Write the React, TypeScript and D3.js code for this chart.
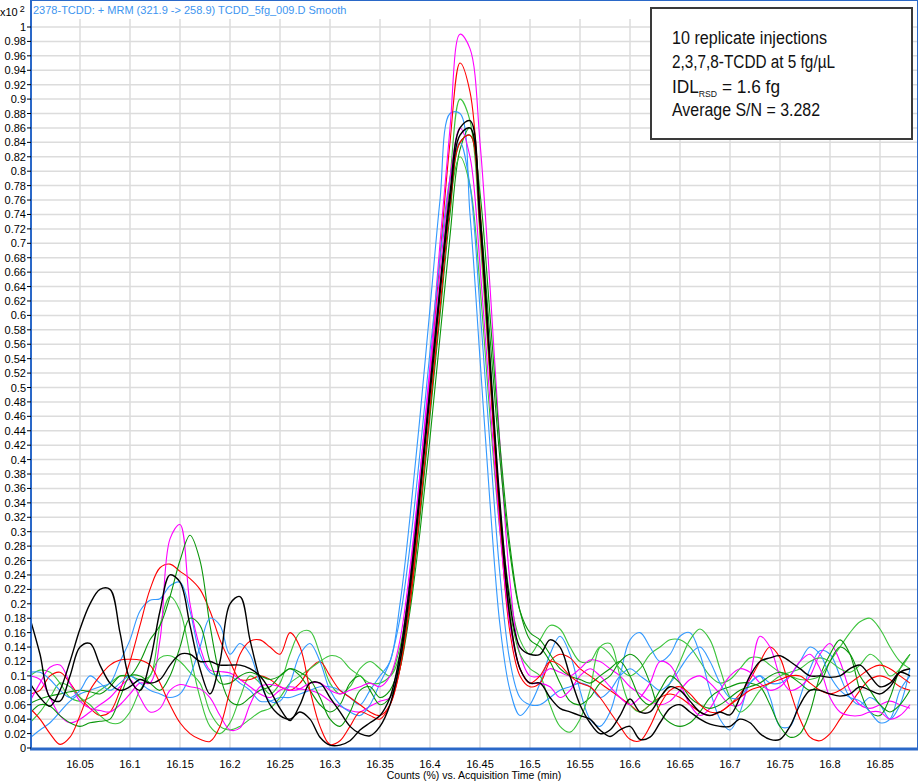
import React from "react";
import * as d3 from "d3";

// acquisition times, one sample every 0.01 min from 16.00 to 16.88
const times: number[] = d3.range(89).map((i) => +(16 + i * 0.01).toFixed(2));

const title = "2378-TCDD: + MRM (321.9 -> 258.9) TCDD_5fg_009.D  Smooth";
const xLabel = "Counts (%) vs. Acquisition Time (min)";
const xTicks = [16.05, 16.1, 16.15, 16.2, 16.25, 16.3, 16.35, 16.4, 16.45, 16.5, 16.55, 16.6, 16.65, 16.7, 16.75, 16.8, 16.85];

// replicate traces (x10^2 counts)
const magenta1 = [0.065,0.09,0.112,0.115,0.09,0.065,0.055,0.052,0.05,0.06,0.075,0.09,0.09,0.15,0.29,0.31,0.2,0.14,0.108,0.106,0.104,0.095,0.085,0.075,0.07,0.08,0.085,0.082,0.08,0.075,0.065,0.058,0.052,0.05,0.058,0.065,
  0.07,0.13,0.24,0.38,0.53,0.7,0.86,0.99,0.97,0.84,0.64,0.42,0.23,0.13,0.1,
  0.1,0.11,0.105,0.1,0.11,0.122,0.12,0.11,0.1,0.085,0.075,0.065,0.06,0.065,0.08,0.095,0.1,0.09,0.075,0.06,0.06,0.1,0.155,0.14,0.1,0.08,0.085,0.1,0.13,0.145,0.12,0.08,0.06,0.055,0.06,0.065,0.06,0.055];
const magenta2 = [0.1,0.095,0.07,0.045,0.035,0.04,0.05,0.06,0.07,0.085,0.095,0.07,0.05,0.055,0.08,0.088,0.085,0.082,0.07,0.045,0.025,0.028,0.06,0.085,0.088,0.085,0.08,0.082,0.09,0.09,0.08,0.075,0.08,0.085,0.09,0.085,
  0.1,0.15,0.25,0.38,0.52,0.66,0.79,0.86,0.82,0.67,0.48,0.3,0.17,0.11,0.09,
  0.09,0.085,0.07,0.08,0.1,0.11,0.1,0.085,0.07,0.06,0.07,0.09,0.12,0.115,0.09,0.06,0.045,0.055,0.08,0.1,0.11,0.105,0.09,0.08,0.085,0.1,0.12,0.13,0.11,0.07,0.05,0.045,0.045,0.05,0.05,0.04,0.045,0.06];
const red1 = [0.075,0.08,0.1,0.105,0.09,0.07,0.055,0.045,0.05,0.08,0.12,0.17,0.22,0.25,0.255,0.245,0.235,0.22,0.19,0.15,0.12,0.095,0.095,0.1,0.095,0.085,0.08,0.09,0.11,0.12,0.1,0.08,0.07,0.06,0.05,0.045,
  0.06,0.11,0.21,0.35,0.51,0.68,0.84,0.95,0.91,0.75,0.52,0.31,0.16,0.1,0.085,
  0.09,0.12,0.13,0.125,0.11,0.1,0.09,0.08,0.07,0.06,0.05,0.06,0.07,0.075,0.07,0.06,0.05,0.045,0.05,0.06,0.075,0.095,0.12,0.14,0.125,0.08,0.04,0.015,0.01,0.02,0.04,0.06,0.08,0.095,0.1,0.095,0.085,0.08];
const red2 = [0.055,0.04,0.02,0.005,0.015,0.045,0.08,0.1,0.115,0.122,0.123,0.122,0.115,0.09,0.06,0.035,0.02,0.012,0.009,0.03,0.08,0.13,0.148,0.15,0.14,0.13,0.16,0.14,0.08,0.03,0.005,0.01,0.03,0.05,0.045,0.04,
  0.06,0.11,0.2,0.33,0.47,0.61,0.75,0.84,0.85,0.72,0.52,0.32,0.18,0.11,0.09,
  0.1,0.12,0.115,0.1,0.09,0.085,0.07,0.05,0.03,0.012,0.01,0.03,0.06,0.08,0.085,0.075,0.06,0.05,0.05,0.06,0.07,0.08,0.085,0.09,0.095,0.1,0.1,0.09,0.08,0.075,0.08,0.09,0.1,0.11,0.115,0.11,0.1,0.09];
const green1 = [0.1,0.108,0.105,0.09,0.07,0.065,0.07,0.08,0.09,0.1,0.1,0.095,0.1,0.17,0.21,0.19,0.13,0.07,0.03,0.02,0.035,0.07,0.1,0.09,0.075,0.09,0.13,0.16,0.162,0.13,0.09,0.075,0.085,0.11,0.12,0.11,
  0.1,0.13,0.21,0.33,0.47,0.63,0.79,0.9,0.87,0.71,0.51,0.33,0.21,0.15,0.13,
  0.15,0.17,0.165,0.14,0.12,0.12,0.14,0.13,0.11,0.1,0.11,0.13,0.14,0.15,0.15,0.14,0.12,0.1,0.09,0.095,0.11,0.125,0.125,0.115,0.105,0.1,0.095,0.095,0.1,0.12,0.14,0.16,0.175,0.18,0.165,0.14,0.12,0.11];
const green2 = [0.035,0.05,0.07,0.09,0.085,0.07,0.06,0.045,0.035,0.035,0.05,0.08,0.1,0.125,0.128,0.12,0.105,0.09,0.05,0.03,0.025,0.03,0.04,0.05,0.055,0.07,0.09,0.1,0.11,0.12,0.128,0.125,0.11,0.1,0.09,0.09,
  0.1,0.14,0.23,0.36,0.5,0.64,0.76,0.82,0.78,0.64,0.46,0.3,0.19,0.13,0.11,
  0.1,0.06,0.03,0.022,0.04,0.08,0.14,0.145,0.1,0.06,0.05,0.06,0.07,0.09,0.12,0.15,0.165,0.15,0.11,0.07,0.05,0.06,0.08,0.09,0.1,0.105,0.11,0.12,0.125,0.12,0.11,0.105,0.115,0.13,0.12,0.1,0.11,0.13];
const darkGreen1 = [0.062,0.068,0.072,0.075,0.078,0.08,0.078,0.075,0.085,0.1,0.1,0.12,0.15,0.17,0.21,0.26,0.295,0.26,0.17,0.1,0.065,0.06,0.07,0.08,0.085,0.1,0.11,0.1,0.08,0.06,0.05,0.06,0.09,0.1,0.08,0.06,
  0.07,0.11,0.19,0.3,0.43,0.57,0.71,0.83,0.86,0.77,0.6,0.42,0.28,0.19,0.15,
  0.14,0.12,0.09,0.065,0.06,0.07,0.09,0.1,0.12,0.13,0.12,0.09,0.05,0.035,0.03,0.035,0.05,0.07,0.08,0.085,0.09,0.09,0.085,0.06,0.03,0.015,0.02,0.05,0.1,0.13,0.15,0.13,0.08,0.05,0.045,0.07,0.11,0.13];
const darkGreen2 = [0.048,0.06,0.058,0.045,0.035,0.03,0.035,0.037,0.04,0.07,0.1,0.1,0.09,0.08,0.1,0.14,0.18,0.17,0.12,0.09,0.09,0.1,0.105,0.1,0.095,0.1,0.11,0.105,0.095,0.07,0.04,0.03,0.05,0.08,0.085,0.07,
  0.08,0.12,0.2,0.32,0.46,0.6,0.74,0.84,0.85,0.74,0.57,0.4,0.27,0.19,0.16,
  0.15,0.13,0.11,0.1,0.095,0.09,0.1,0.11,0.12,0.1,0.07,0.06,0.08,0.1,0.09,0.07,0.06,0.055,0.06,0.07,0.08,0.085,0.09,0.1,0.105,0.1,0.09,0.08,0.09,0.12,0.14,0.13,0.1,0.08,0.06,0.05,0.06,0.08];
const blue1 = [0.014,0.025,0.035,0.05,0.065,0.075,0.08,0.085,0.09,0.12,0.15,0.19,0.205,0.207,0.225,0.23,0.19,0.13,0.105,0.1,0.1,0.09,0.08,0.065,0.065,0.07,0.07,0.075,0.08,0.085,0.085,0.08,0.07,0.06,0.08,0.1,
  0.12,0.2,0.32,0.46,0.61,0.76,0.88,0.88,0.74,0.54,0.34,0.17,0.08,0.045,0.06,
  0.09,0.13,0.155,0.13,0.08,0.04,0.03,0.05,0.1,0.15,0.16,0.14,0.12,0.13,0.155,0.16,0.13,0.08,0.04,0.025,0.05,0.09,0.1,0.07,0.03,0.03,0.07,0.11,0.135,0.13,0.1,0.07,0.06,0.07,0.06,0.04,0.06,0.11];
const blue2 = [0.105,0.105,0.095,0.08,0.07,0.08,0.1,0.09,0.08,0.09,0.1,0.09,0.08,0.075,0.07,0.075,0.1,0.14,0.18,0.17,0.13,0.145,0.13,0.09,0.065,0.065,0.09,0.13,0.145,0.12,0.08,0.06,0.05,0.045,0.06,0.09,
  0.12,0.18,0.28,0.41,0.55,0.68,0.79,0.84,0.78,0.61,0.42,0.24,0.12,0.07,0.06,
  0.06,0.07,0.08,0.085,0.09,0.085,0.07,0.08,0.1,0.11,0.1,0.09,0.08,0.09,0.11,0.13,0.14,0.12,0.09,0.07,0.07,0.09,0.1,0.09,0.09,0.1,0.12,0.14,0.13,0.1,0.08,0.07,0.065,0.05,0.035,0.04,0.08,0.1];
const black1 = [0.09,0.07,0.058,0.08,0.12,0.165,0.2,0.22,0.22,0.16,0.095,0.08,0.12,0.19,0.24,0.23,0.17,0.11,0.075,0.12,0.2,0.21,0.15,0.095,0.06,0.045,0.04,0.05,0.04,0.015,0.004,0.004,0.01,0.025,0.035,0.045,
  0.07,0.13,0.23,0.36,0.5,0.64,0.77,0.86,0.87,0.74,0.54,0.34,0.2,0.14,0.13,
  0.13,0.15,0.14,0.1,0.06,0.035,0.02,0.025,0.045,0.068,0.05,0.05,0.07,0.085,0.08,0.065,0.05,0.045,0.05,0.046,0.07,0.1,0.12,0.125,0.128,0.12,0.11,0.1,0.1,0.098,0.1,0.11,0.115,0.1,0.085,0.09,0.105,0.1];
const black2 = [0.18,0.13,0.07,0.065,0.1,0.14,0.145,0.115,0.09,0.08,0.085,0.095,0.09,0.095,0.115,0.13,0.13,0.12,0.12,0.115,0.115,0.115,0.11,0.1,0.08,0.055,0.038,0.06,0.09,0.09,0.07,0.05,0.03,0.02,0.017,0.03,
  0.06,0.12,0.22,0.35,0.49,0.63,0.76,0.85,0.86,0.73,0.53,0.33,0.18,0.11,0.09,
  0.09,0.07,0.055,0.05,0.045,0.04,0.025,0.016,0.025,0.03,0.012,0.015,0.035,0.055,0.06,0.05,0.04,0.033,0.03,0.03,0.04,0.035,0.02,0.012,0.012,0.03,0.06,0.08,0.08,0.075,0.072,0.075,0.085,0.08,0.075,0.085,0.105,0.11];

const series = [
  { name: "green1", color: "#3cc43c", values: green1 },
  { name: "blue1", color: "#3399ff", values: blue1 },
  { name: "red1", color: "#ff0000", values: red1 },
  { name: "magenta1", color: "#ff00ff", values: magenta1 },
  { name: "darkGreen1", color: "#0a960a", values: darkGreen1 },
  { name: "green2", color: "#3cc43c", values: green2 },
  { name: "blue2", color: "#3399ff", values: blue2 },
  { name: "magenta2", color: "#ff00ff", values: magenta2 },
  { name: "darkGreen2", color: "#0a960a", values: darkGreen2 },
  { name: "red2", color: "#ff0000", values: red2 },
  { name: "black2", color: "#000000", values: black2 },
  { name: "black1", color: "#000000", values: black1 },
];

const boxLines = ["10 replicate injections", "2,3,7,8-TCDD at 5 fg/µL", "Average S/N = 3.282"];

export default function App() {
  const width = 920;
  const height = 781;
  const plot = { left: 31, right: 917, top: 19, bottom: 748 };
  const frameBlue = "#2a68c8";
  const font = "'Liberation Sans', Arial, sans-serif";
  const boxFont = "'Liberation Sans', Arial, sans-serif";

  const x = d3.scaleLinear().domain([16, 17]).range([30, 1030]);
  const y = d3.scaleLinear().domain([0, 1]).range([plot.bottom, 27]);
  const yTicks = y.ticks(50).filter((v) => v <= 1.0001);

  const line = d3
    .line<number>()
    .x((_, i) => x(times[i]))
    .y((v) => y(v))
    .curve(d3.curveCatmullRom.alpha(0.5));

  return (
    <div style={{ position: "absolute", left: 0, top: 0 }}>
      <svg width={width} height={height} style={{ display: "block", background: "#fff" }}>
        <defs>
          <clipPath id="plotClip">
            <rect x={plot.left} y={plot.top} width={plot.right - plot.left} height={plot.bottom - plot.top} />
          </clipPath>
        </defs>

        {/* grid */}
        <g stroke="#dcdcdc" strokeWidth={1.5}>
          {yTicks.filter((v) => v > 0).map((v) => (
            <line key={`h${v}`} x1={plot.left} x2={plot.right} y1={y(v)} y2={y(v)} />
          ))}
          {xTicks.map((t) => (
            <line key={`v${t}`} x1={x(t)} x2={x(t)} y1={plot.top} y2={plot.bottom} />
          ))}
        </g>

        {/* traces */}
        <g clipPath="url(#plotClip)" fill="none">
          {series.map((s) => (
            <path key={s.name} d={line(s.values) ?? ""} stroke={s.color} strokeWidth={s.color === "#000000" ? 1.4 : 1.1} />
          ))}
        </g>

        {/* frame */}
        <line x1={plot.left} x2={plot.right} y1={0.5} y2={0.5} stroke={frameBlue} strokeWidth={1} />
        <line x1={plot.right + 0.5} x2={plot.right + 0.5} y1={0} y2={plot.bottom} stroke={frameBlue} strokeWidth={1} />
        <line x1={plot.left} x2={plot.left} y1={0} y2={plot.bottom + 2} stroke={frameBlue} strokeWidth={2} />
        <line x1={plot.left - 1} x2={plot.right + 1} y1={plot.bottom + 1} y2={plot.bottom + 1} stroke={frameBlue} strokeWidth={3} />

        {/* title */}
        <text x={33} y={14} fontFamily={font} fontSize={11} fill="#3d95f0">
          {title}
        </text>

        {/* y axis */}
        <text x={0} y={16} fontFamily={font} fontSize={11} fill="#000">
          x10
          <tspan dx={2} dy={-4} fontSize={9}>2</tspan>
        </text>
        <g fontFamily={font} fontSize={11} fill="#000">
          {yTicks.map((v) => (
            <g key={`yt${v}`}>
              <line x1={27} x2={31} y1={y(v)} y2={y(v)} stroke="#000" strokeWidth={1} />
              <text x={26} y={y(v) + 4} textAnchor="end">
                {String(+v.toFixed(2))}
              </text>
            </g>
          ))}
        </g>

        {/* x axis */}
        <g fontFamily={font} fontSize={11} fill="#000">
          {xTicks.map((t) => (
            <text key={`xt${t}`} x={x(t)} y={768} textAnchor="middle">
              {String(t)}
            </text>
          ))}
          <text x={(plot.left + plot.right) / 2} y={779} textAnchor="middle" fontSize={10.5}>
            {xLabel}
          </text>
        </g>

        {/* annotation box */}
        <g>
          <rect x={651} y={8} width={261} height={131} fill="#fff" stroke="#3a3a3a" strokeWidth={2} />
          <g fontFamily={boxFont} fontSize={18} fill="#111">
            <text x={672} y={44} textLength={155} lengthAdjust="spacingAndGlyphs">{boxLines[0]}</text>
            <text x={672} y={68} textLength={163} lengthAdjust="spacingAndGlyphs">{boxLines[1]}</text>
            <text x={672} y={93} textLength={108} lengthAdjust="spacingAndGlyphs">
              IDL
              <tspan fontSize={9} dy={4}>RSD</tspan>
              <tspan dy={-4}> = 1.6 fg</tspan>
            </text>
            <text x={672} y={116} textLength={148} lengthAdjust="spacingAndGlyphs">{boxLines[2]}</text>
          </g>
        </g>
      </svg>
    </div>
  );
}
